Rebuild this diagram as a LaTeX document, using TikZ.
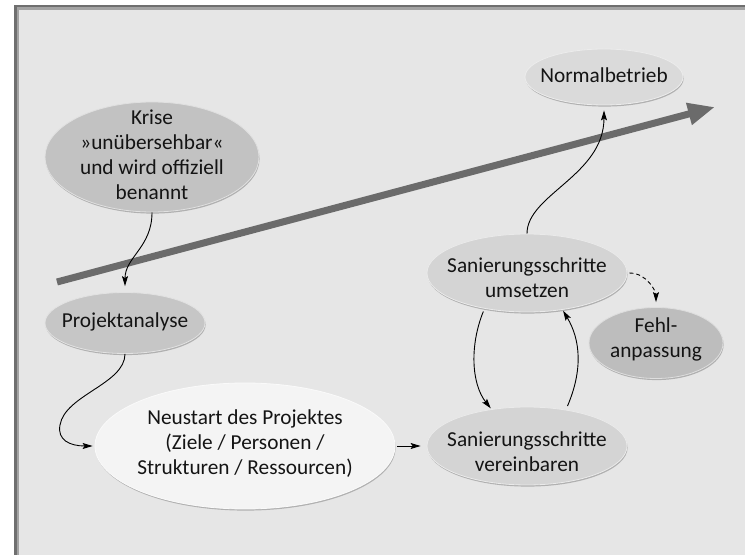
\documentclass[tikz,border=0pt]{standalone}
\usepackage{fontspec}
\setmainfont{Carlito}
\usetikzlibrary{shapes.geometric,arrows.meta,shadows}
\definecolor{bgpanel}{HTML}{E6E6E6}
\definecolor{framedark}{HTML}{6F6F6F}
\definecolor{framemid}{HTML}{A3A3A3}
\definecolor{trendc}{HTML}{6B6B6B}
\definecolor{krisec}{HTML}{C2C2C2}
\definecolor{projc}{HTML}{C6C6C6}
\definecolor{normc}{HTML}{DADADA}
\definecolor{sanc}{HTML}{D4D4D4}
\definecolor{fehlc}{HTML}{BDBDBD}
\definecolor{neuc}{HTML}{F4F4F4}
\begin{document}
\begin{tikzpicture}[x=1pt,y=-1pt,
  ell/.style={ellipse, inner sep=0pt, draw=white!50!#1, line width=0.8pt, fill=#1,
    drop shadow={shadow xshift=0.6pt, shadow yshift=-1.6pt, opacity=0.35, fill=black!70}},
  txt/.style={align=center, font=\fontsize{21.3}{25}\selectfont, text=black!92, inner sep=0pt},
  conn/.style={line width=0.9pt, -{Stealth[length=10pt,width=6pt,inset=2pt]}},
  trend/.style={line width=7pt, draw=trendc, -{Triangle[length=27pt,width=21pt]}},
]
\useasboundingbox (0,0) rectangle (745,556);
\fill[white] (0,0) rectangle (745,556);
\fill[framedark] (14,5) rectangle (745,555);
\fill[framemid] (17,7.5) rectangle (745,555);
\fill[bgpanel] (19,10) rectangle (745,555);

\coordinate (trS) at (57,282);
\coordinate (trE) at (715,107);
\draw[trend] (trS) -- (trE);

\node[ell=krisec, minimum width=214pt, minimum height=110pt,
  label={[txt,yshift=2pt]center:{Krise\\»unübersehbar«\\und wird offiziell\\benannt}}] (kr) at (152,157) {};
\node[ell=projc, minimum width=160pt, minimum height=61pt,
  label={[txt,yshift=1pt]center:Projektanalyse}] (pa) at (125,323) {};
\node[ell=neuc, minimum width=300pt, minimum height=126pt,
  label={[txt,yshift=2pt]center:{Neustart des Projektes\\(Ziele / Personen /\\Strukturen / Ressourcen)}}] (ne) at (245,446) {};
\node[ell=sanc, minimum width=200pt, minimum height=78pt,
  label={[txt,yshift=-6pt]center:{Sanierungsschritte\\vereinbaren}}] (ve) at (527,446) {};
\node[ell=sanc, minimum width=200pt, minimum height=78pt,
  label={[txt,yshift=-4.5pt]center:{Sanierungsschritte\\umsetzen}}] (us) at (527,273) {};
\node[ell=fehlc, minimum width=134pt, minimum height=71pt,
  label={[txt,yshift=3.5pt]center:{Fehl-\\anpassung}}] (fe) at (656,343) {};
\node[ell=normc, minimum width=158pt, minimum height=56pt,
  label={[txt,yshift=2pt]center:Normalbetrieb}] (nb) at (604,77) {};

\draw[conn, shorten >=6pt] (kr.south) .. controls +(0,35) and +(0,-35) .. (pa.north);
\draw[conn, shorten >=2pt] (pa.south) .. controls +(0,30) and (65,395) .. (60,425)
  .. controls (57,440) and (70,446) .. (ne.west);
\draw[conn, shorten <=2pt, shorten >=6pt] (ne.east) -- (ve.west);
\draw[conn, shorten <=3pt, shorten >=1pt] (us.220) .. controls +(-15,37) and +(-20,-25) .. (ve.134);
\draw[conn, shorten <=4pt, shorten >=1pt] (ve.43) .. controls +(17,-40) and +(18,30) .. (us.-46);
\draw[conn, shorten >=5pt] (us.north) .. controls +(0,-39) and +(0,70) .. (nb.south);
\draw[conn, dash pattern=on 4pt off 3pt, shorten <=2pt, shorten >=5pt] (us.east) .. controls +(20,0) and +(0,-15) .. (fe.north);
\end{tikzpicture}
\end{document}
